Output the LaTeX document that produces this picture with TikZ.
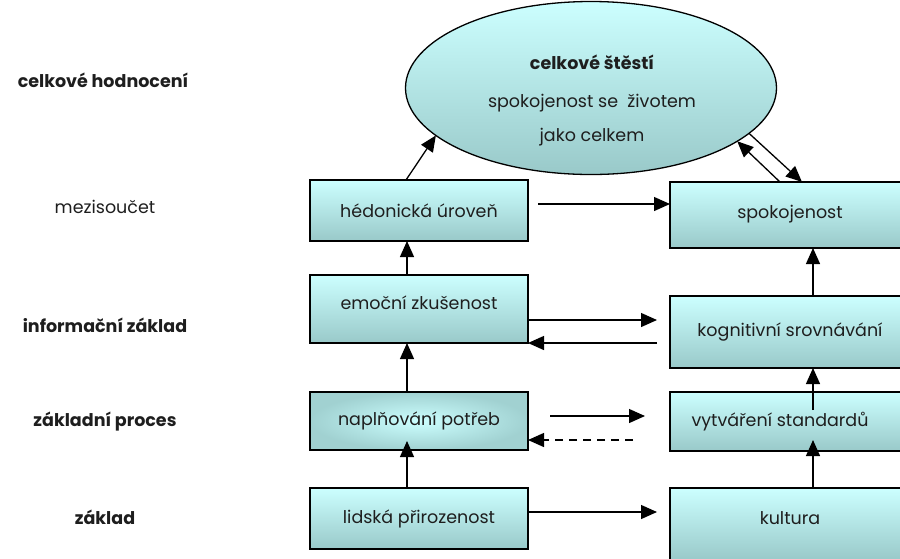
\documentclass[tikz,border=0pt]{standalone}
\usepackage{fontspec}
\setmainfont{Poppins}
\usetikzlibrary{arrows.meta,shapes.geometric}
\definecolor{lite}{HTML}{CCFFFF}
\definecolor{deep}{HTML}{99C9C9}
\definecolor{ink}{HTML}{1E1E1E}
\tikzset{
  txt/.style={text=ink, font=\fontsize{17.5}{20}\selectfont},
  box/.style={txt, draw=black, line width=1.3pt, rectangle, inner sep=0pt, outer sep=0pt,
    top color=lite, bottom color=deep},
  lbox/.style={box, minimum width=218pt},
  rbox/.style={box, minimum width=240pt},
  level/.style={text=ink, font=\fontsize{17.5}{20}\selectfont\bfseries},
  flow/.style={line width=1.3pt, -{Triangle[length=16pt,width=14pt]}},
}
\begin{document}
\begin{tikzpicture}[x=1pt,y=-1pt]
\useasboundingbox (0,0) rectangle (900,558);
\clip (0,0) rectangle (900,558);

% levels on the left
\node[level] (l1) at (103,80) {celkové hodnocení};
\node[txt] (l2) at (105,207) {mezisoučet};
\node[level] (l3) at (105,325) {informační základ};
\node[level] (l4) at (105,422) {základní proces};
\node[level] (l5) at (105,517) {základ};

% overall happiness
\node[draw=black, line width=1.3pt, ellipse, inner sep=0pt, outer sep=0pt,
      minimum width=371pt, minimum height=173pt, top color=lite, bottom color=deep] (ell) at (591,88) {};
\node[level] (e1) at (592,62) {celkové štěstí};
\node[txt] (e2) at (592,103) {spokojenost se\ \ životem};
\node[txt] (e3) at (592,137) {jako celkem};

% left column
\node[lbox, minimum height=61pt] (hed) at (419,210.5) {hédonická úroveň};
\node[lbox, minimum height=68pt] (emo) at (419,309) {\raisebox{12pt}{emoční zkušenost}};
\node[lbox, minimum height=58pt, shading=radial, inner color=lite, outer color=deep!85!lite] (nap) at (419,421) {naplňování potřeb};
\node[lbox, minimum height=61pt] (lid) at (419,518.5) {lidská přirozenost};

% right column
\node[rbox, minimum height=66pt] (spok) at (790,215) {\raisebox{6pt}{spokojenost}};
\node[rbox, minimum height=72pt] (kog) at (790,332) {kognitivní srovnávání};
\node[rbox, minimum height=59pt] (vyt) at (790,421.5) {vytváření standardů\hspace*{20pt}};
\node[rbox, minimum height=72pt] (kul) at (790,524) {\raisebox{12pt}{kultura}};

% vertical flows, left
\draw[flow] ([xshift=-12pt]emo.north) -- ([xshift=-12pt]hed.south);
\draw[flow] ([xshift=-12pt]nap.north) -- ([xshift=-12pt]emo.south);
\draw[flow] ([xshift=-12pt]lid.north) -- ([shift={(-12pt,9pt)}]nap.south);
\draw[flow] ([xshift=-13pt]hed.north) -- (ell.197);

% vertical flows, right
\draw[flow] ([xshift=23pt]kul.north) -- ([shift={(23pt,11pt)}]vyt.south);
\draw[flow] ([shift={(23pt,-18pt)}]vyt.north) -- ([xshift=23pt]kog.south);
\draw[flow] ([xshift=23pt]kog.north) -- ([xshift=23pt]spok.south);
\draw[flow] ([xshift=-10pt]spok.north) -- (ell.340);
\draw[flow] (ell.344) -- ([xshift=12pt]spok.north);

% horizontal flows
\draw[flow] ([shift={(10pt,6.5pt)}]hed.east) -- ([yshift=11pt]spok.west);
\draw[flow] ([yshift=-11pt]emo.east) -- ([shift={(-13pt,12pt)}]kog.west);
\draw[flow] ([shift={(-13pt,-11pt)}]kog.west) -- ([yshift=-34pt]emo.east);
\draw[flow] ([shift={(22pt,5pt)}]nap.east) -- ([shift={(-25pt,5.5pt)}]vyt.west);
\draw[flow, dashed, dash pattern=on 8pt off 6pt] ([shift={(-37pt,-18.5pt)}]vyt.west) -- ([yshift=-19pt]nap.east);
\draw[flow] ([yshift=6.5pt]lid.east) -- ([shift={(-13pt,12pt)}]kul.west);
\end{tikzpicture}
\end{document}
